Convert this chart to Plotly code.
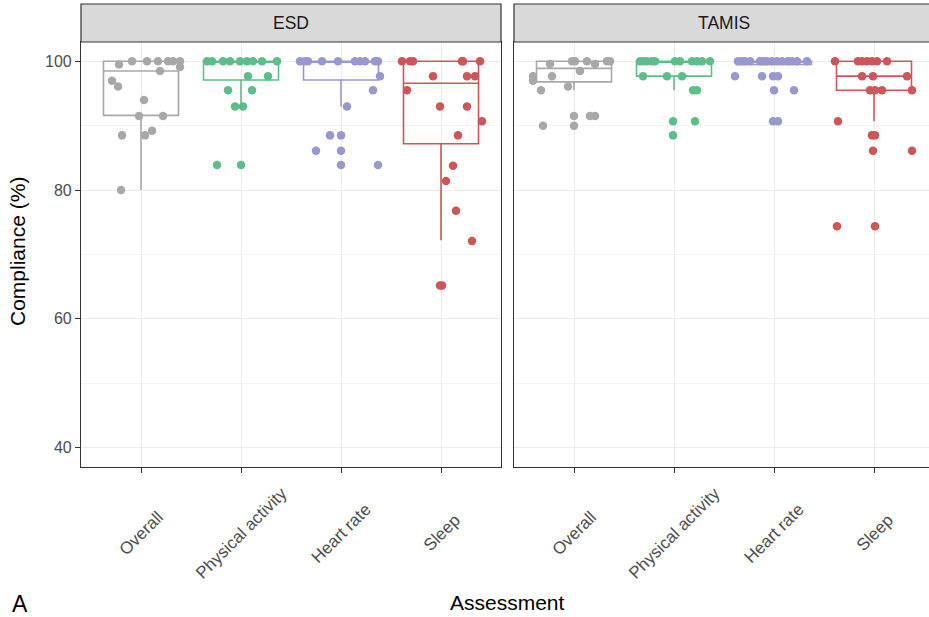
import plotly.graph_objects as go

# ---------------- data ----------------
categories = ["Overall", "Physical activity", "Heart rate", "Sleep"]
panels = ["ESD", "TAMIS"]
colors = ["#A8A8A8", "#5EBE8B", "#9898CE", "#CC5659"]

# ESD: compliance values (%) and horizontal jitter (category units)
esd_overall = [100, 100, 100, 100, 100, 100, 99.5, 99.1, 98.5, 97.0, 96.1, 94.0, 91.5, 91.5, 89.2, 88.5, 88.5, 80.0]
esd_overall_jit = [-0.09, 0.06, 0.17, 0.27, 0.32, 0.39, -0.22, 0.39, 0.19, -0.29, -0.23, 0.03, -0.02, 0.22, 0.11, -0.19, 0.04, -0.20]
esd_pa = [100, 100, 100, 100, 100, 100, 100, 100, 100, 97.7, 97.7, 95.5, 95.5, 93.0, 93.0, 83.9, 83.9]
esd_pa_jit = [-0.34, -0.29, -0.18, -0.11, -0.01, 0.06, 0.12, 0.21, 0.36, 0.07, 0.27, -0.13, 0.11, -0.06, 0.02, -0.24, 0.00]
esd_hr = [100, 100, 100, 100, 100, 100, 100, 100, 100, 100, 97.7, 95.5, 93.0, 88.5, 88.5, 86.1, 86.1, 83.9, 83.9]
esd_hr_jit = [-0.41, -0.36, -0.33, -0.19, -0.03, 0.14, 0.19, 0.24, 0.34, 0.37, 0.39, 0.32, 0.06, -0.11, 0.00, -0.25, 0.00, 0.00, 0.37]
esd_sleep = [100, 100, 100, 100, 100, 100, 97.7, 97.7, 97.7, 95.5, 93.0, 93.0, 90.7, 88.5, 83.8, 81.4, 76.8, 72.1, 65.2, 65.2]
esd_sleep_jit = [-0.39, -0.31, -0.28, 0.21, 0.22, 0.39, -0.08, 0.26, 0.34, -0.34, -0.01, 0.26, 0.41, 0.17, 0.12, 0.05, 0.15, 0.31, -0.01, 0.01]

# TAMIS
tamis_overall = [100, 100, 100, 100, 100, 99.6, 99.6, 98.5, 97.7, 97.7, 97.0, 96.1, 95.5, 91.5, 91.5, 91.5, 90.0, 90.0]
tamis_overall_jit = [-0.02, 0.01, 0.13, 0.33, 0.36, -0.24, 0.21, 0.06, -0.41, -0.22, -0.41, -0.06, -0.33, 0.00, 0.16, 0.21, -0.31, 0.00]
tamis_pa = [100, 100, 100, 100, 100, 100, 100, 100, 100, 100, 100, 97.7, 97.7, 97.7, 95.5, 95.5, 90.7, 90.7, 88.5]
tamis_pa_jit = [-0.34, -0.31, -0.27, -0.22, -0.19, 0.01, 0.06, 0.18, 0.23, 0.28, 0.36, -0.31, -0.07, 0.08, 0.19, 0.23, -0.01, 0.21, -0.01]
tamis_hr = [100, 100, 100, 100, 100, 100, 100, 100, 100, 100, 100, 100, 100, 100, 97.7, 97.7, 97.7, 97.7, 95.5, 95.5, 90.7, 90.7]
tamis_hr_jit = [-0.36, -0.32, -0.29, -0.24, -0.14, -0.11, -0.07, -0.02, 0.03, 0.08, 0.14, 0.18, 0.23, 0.33, -0.39, -0.12, -0.01, 0.04, 0.00, 0.20, -0.01, 0.04]
tamis_sleep = [100, 100, 100, 100, 100, 100, 100, 97.7, 97.7, 97.7, 95.5, 95.5, 95.5, 95.5, 90.7, 88.5, 88.5, 86.1, 86.1, 74.4, 74.4]
tamis_sleep_jit = [-0.39, -0.16, -0.12, -0.07, -0.02, 0.03, 0.13, -0.12, -0.01, 0.33, -0.04, 0.01, 0.08, 0.38, -0.36, -0.02, 0.01, -0.01, 0.38, -0.37, 0.01]

# Box statistics (per category)
esd_q1 = [91.6, 97.1, 97.1, 87.2]
esd_median = [98.5, 100, 100, 96.6]
esd_q3 = [100, 100, 100, 100]
esd_lower = [80.0, 93.0, 93.0, 72.2]
esd_upper = [100, 100, 100, 100]

tamis_q1 = [96.8, 97.7, 99.5, 95.5]
tamis_median = [98.9, 100, 100, 97.7]
tamis_q3 = [100, 100, 100, 100]
tamis_lower = [95.5, 95.5, 99.5, 90.7]
tamis_upper = [100, 100, 100, 100]

y_ticks = [40, 60, 80, 100]

# ---------------- figure ----------------
W, H = 929, 617
FONT = "Liberation Sans, Arial, sans-serif"
fig = go.Figure()

panel_points = [
    [(esd_overall, esd_overall_jit), (esd_pa, esd_pa_jit), (esd_hr, esd_hr_jit), (esd_sleep, esd_sleep_jit)],
    [(tamis_overall, tamis_overall_jit), (tamis_pa, tamis_pa_jit), (tamis_hr, tamis_hr_jit), (tamis_sleep, tamis_sleep_jit)],
]
panel_stats = [
    (esd_q1, esd_median, esd_q3, esd_lower, esd_upper),
    (tamis_q1, tamis_median, tamis_q3, tamis_lower, tamis_upper),
]

for p in range(2):
    xa = "x" if p == 0 else "x2"
    ya = "y" if p == 0 else "y2"
    q1, med, q3, lo, up = panel_stats[p]
    for k in range(4):
        fig.add_trace(go.Box(
            x=[k], q1=[q1[k]], median=[med[k]], q3=[q3[k]],
            lowerfence=[lo[k]], upperfence=[up[k]],
            width=0.75, boxpoints=False, whiskerwidth=0,
            line=dict(color=colors[k], width=1.6),
            fillcolor="rgba(255,255,255,0)",
            xaxis=xa, yaxis=ya, showlegend=False, hoverinfo="skip",
        ))
    for k in range(4):
        vals, jit = panel_points[p][k]
        fig.add_trace(go.Scatter(
            x=[k + j for j in jit], y=vals, mode="markers",
            marker=dict(color=colors[k], size=8.5, line=dict(width=0)),
            xaxis=xa, yaxis=ya, showlegend=False, hoverinfo="skip",
        ))

plot_top_px, plot_bot_px = 42, 467
ydom = [(H - plot_bot_px) / H, (H - plot_top_px) / H]
x1dom = [81 / W, 501 / W]
x2dom = [514 / W, 1.0]

common_x = dict(
    tickvals=[0, 1, 2, 3], showticklabels=False, ticks="outside", ticklen=5,
    tickcolor="#333333", tickwidth=1.2, showgrid=True, gridcolor="#EBEBEB", gridwidth=1.1,
    showline=True, linecolor="#333333", linewidth=1.2, zeroline=False, fixedrange=True,
)
fig.update_layout(
    width=W, height=H, margin=dict(l=0, r=0, t=0, b=0),
    paper_bgcolor="white", plot_bgcolor="white",
    font=dict(family=FONT, color="#4D4D4D"),
    boxmode="overlay",
    xaxis=dict(domain=x1dom, range=[-0.6, 3.6], mirror=True, anchor="y", **common_x),
    xaxis2=dict(domain=x2dom, range=[-0.6, 3.55], mirror=True, anchor="y2", **common_x),
    yaxis=dict(
        domain=ydom, range=[37, 103], tickvals=y_ticks, ticks="outside", ticklen=5,
        tickcolor="#333333", tickwidth=1.2, tickfont=dict(size=16, color="#4D4D4D", family=FONT),
        showgrid=True, gridcolor="#EBEBEB", gridwidth=1.1,
        minor=dict(tickvals=[50, 70, 90], showgrid=True, gridcolor="#F3F3F3", gridwidth=0.8, ticks=""),
        showline=True, mirror=True, linecolor="#333333", linewidth=1.2, zeroline=False, anchor="x",
    ),
    yaxis2=dict(
        domain=ydom, range=[37, 103], tickvals=y_ticks, showticklabels=False, ticks="",
        showgrid=True, gridcolor="#EBEBEB", gridwidth=1.1,
        minor=dict(tickvals=[50, 70, 90], showgrid=True, gridcolor="#F3F3F3", gridwidth=0.8, ticks=""),
        showline=True, mirror=False, linecolor="#333333", linewidth=1.2, zeroline=False, anchor="x2",
    ),
)

# facet strips
strip_y0 = (H - 42) / H
strip_y1 = (H - 4) / H
fig.add_shape(type="rect", xref="paper", yref="paper", x0=x1dom[0], x1=x1dom[1], y0=strip_y0, y1=strip_y1,
              fillcolor="#D9D9D9", line=dict(color="#333333", width=1.2), layer="above")
fig.add_shape(type="rect", xref="paper", yref="paper", x0=x2dom[0], x1=1.02, y0=strip_y0, y1=strip_y1,
              fillcolor="#D9D9D9", line=dict(color="#333333", width=1.2), layer="above")
fig.add_annotation(text=panels[0], xref="paper", yref="paper", x=(x1dom[0] + x1dom[1]) / 2, y=(strip_y0 + strip_y1) / 2,
                   showarrow=False, font=dict(size=17.5, color="#1A1A1A", family=FONT), xanchor="center", yanchor="middle")
fig.add_annotation(text=panels[1], xref="paper", yref="paper", x=724 / W, y=(strip_y0 + strip_y1) / 2,
                   showarrow=False, font=dict(size=17.5, color="#1A1A1A", family=FONT), xanchor="center", yanchor="middle")

# rotated category labels, centered under ticks
for xa in ["x", "x2"]:
    for k, c in enumerate(categories):
        fig.add_annotation(text=c, xref=xa, yref="paper", x=k, y=(H - 533) / H, textangle=-45,
                           showarrow=False, xanchor="center", yanchor="middle",
                           font=dict(size=17, color="#4D4D4D", family=FONT))

# axis titles
fig.add_annotation(text="Assessment", xref="paper", yref="paper", x=507 / W, y=(H - 602) / H,
                   showarrow=False, xanchor="center", yanchor="middle", font=dict(size=21, color="#000000", family=FONT))
fig.add_annotation(text="Compliance (%)", xref="paper", yref="paper", x=18 / W, y=(H - 252) / H, textangle=-90,
                   showarrow=False, xanchor="center", yanchor="middle", font=dict(size=21, color="#000000", family=FONT))
fig.add_annotation(text="A", xref="paper", yref="paper", x=10 / W, y=(H - 589) / H,
                   showarrow=False, xanchor="left", yanchor="top", font=dict(size=23, color="#000000", family=FONT))

fig.write_html("out.html")
